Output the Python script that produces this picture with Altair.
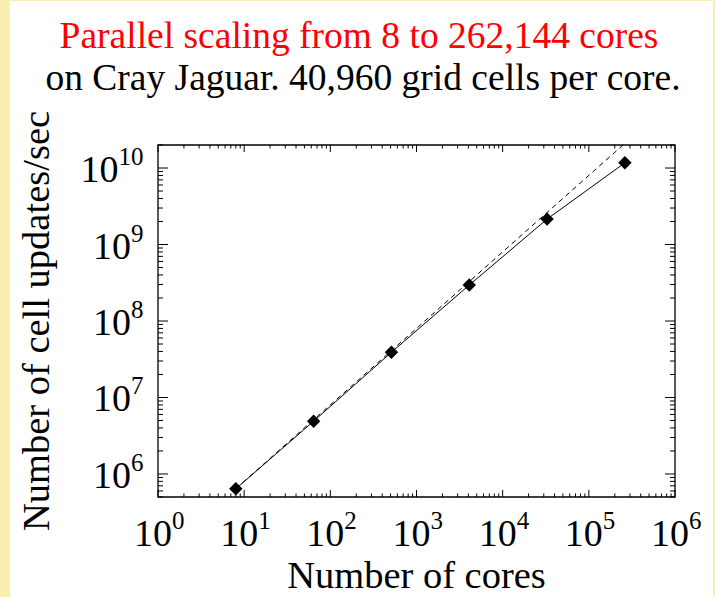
import altair as alt
import pandas as pd

# Measured throughput on Cray Jaguar (40,960 grid cells per core)
cores = [8, 64, 512, 4096, 32768, 262144]
updates_per_sec = [6.4e5, 4.9e6, 3.9e7, 2.95e8, 2.15e9, 1.17e10]

# Ideal (linear) scaling line through the 8-core run
ideal_cores = [8, 262144]
ideal_updates = [6.4e5, 2.1e10]

# Axis decades and labels
x_exponents = [0, 1, 2, 3, 4, 5, 6]
y_exponents = [6, 7, 8, 9, 10]

X_DOMAIN = [1, 1e6]
Y_DOMAIN = [5e5, 2e10]

W, H = 517, 352
SERIF = "Liberation Serif"
PAGE_BG = "#FAEEB2"

meas = pd.DataFrame({"cores": cores, "rate": updates_per_sec})
ideal = pd.DataFrame({"cores": ideal_cores, "rate": ideal_updates})

x_major = pd.DataFrame({"v": [10.0 ** e for e in x_exponents],
                        "e": [str(e) for e in x_exponents]})
x_minor = pd.DataFrame({"v": [k * 10.0 ** e for e in x_exponents[:-1] for k in range(2, 10)]})
y_major = pd.DataFrame({"v": [10.0 ** e for e in y_exponents],
                        "e": [str(e) for e in y_exponents]})
y_minor = pd.DataFrame({"v": [v for v in [k * 10.0 ** e for e in range(5, 11) for k in range(2, 10)]
                              if Y_DOMAIN[0] <= v <= Y_DOMAIN[1]]})

xs = alt.Scale(type="log", domain=X_DOMAIN, nice=False)
ys = alt.Scale(type="log", domain=Y_DOMAIN, nice=False)

one = alt.Data(values=[{}])

# white page panel inside the pale yellow margin
panel = alt.Chart(one).mark_rect(color="white").encode(
    x=alt.value(-148), x2=alt.value(555), y=alt.value(-144), y2=alt.value(460)
)

# plot frame
frame = alt.Chart(one).mark_rect(fill=None, stroke="black", strokeWidth=1.3).encode(
    x=alt.value(0), x2=alt.value(W), y=alt.value(0), y2=alt.value(H)
)

ideal_line = alt.Chart(ideal).mark_line(
    color="black", strokeWidth=1, strokeDash=[5, 4], clip=True
).encode(x=alt.X("cores:Q", scale=xs, axis=None), y=alt.Y("rate:Q", scale=ys, axis=None))

meas_line = alt.Chart(meas).mark_line(color="black", strokeWidth=1).encode(
    x=alt.X("cores:Q", scale=xs, axis=None), y=alt.Y("rate:Q", scale=ys, axis=None)
)
meas_pts = alt.Chart(meas).mark_point(
    shape="diamond", filled=True, color="black", size=180, opacity=1
).encode(x=alt.X("cores:Q", scale=xs, axis=None), y=alt.Y("rate:Q", scale=ys, axis=None))


def xticks(df, length):
    bottom = alt.Chart(df).mark_rule(color="black", strokeWidth=1).encode(
        x=alt.X("v:Q", scale=xs, axis=None), y=alt.value(H), y2=alt.value(H - length))
    top = alt.Chart(df).mark_rule(color="black", strokeWidth=1).encode(
        x=alt.X("v:Q", scale=xs, axis=None), y=alt.value(0), y2=alt.value(length))
    return [bottom, top]


def yticks(df, length):
    left = alt.Chart(df).mark_rule(color="black", strokeWidth=1).encode(
        y=alt.Y("v:Q", scale=ys, axis=None), x=alt.value(0), x2=alt.value(length))
    right = alt.Chart(df).mark_rule(color="black", strokeWidth=1).encode(
        y=alt.Y("v:Q", scale=ys, axis=None), x=alt.value(W), x2=alt.value(W - length))
    return [left, right]


ticks = xticks(x_major, 7) + xticks(x_minor, 3.5) + yticks(y_major, 10) + yticks(y_minor, 5)

LBL = 38
SUP = 25

# x-axis labels: "10" with a raised exponent
x_base = alt.Chart(x_major).mark_text(
    text="10", font=SERIF, fontSize=LBL, align="right", baseline="alphabetic", dx=14
).encode(x=alt.X("v:Q", scale=xs, axis=None), y=alt.value(H + 49))
x_sup = alt.Chart(x_major).mark_text(
    font=SERIF, fontSize=SUP, align="left", baseline="alphabetic", dx=14
).encode(x=alt.X("v:Q", scale=xs, axis=None), y=alt.value(H + 32), text="e:N")

# y-axis labels, right-aligned against the frame
y_sup = alt.Chart(y_major).mark_text(
    font=SERIF, fontSize=SUP, align="right", baseline="alphabetic", dy=-3
).encode(y=alt.Y("v:Q", scale=ys, axis=None), x=alt.value(-14.5), text="e:N")
y_base_1 = alt.Chart(y_major).transform_filter("length(datum.e) == 1").mark_text(
    text="10", font=SERIF, fontSize=LBL, align="right", baseline="alphabetic", dy=14
).encode(y=alt.Y("v:Q", scale=ys, axis=None), x=alt.value(-14.5 - SUP * 0.5))
y_base_2 = alt.Chart(y_major).transform_filter("length(datum.e) == 2").mark_text(
    text="10", font=SERIF, fontSize=LBL, align="right", baseline="alphabetic", dy=14
).encode(y=alt.Y("v:Q", scale=ys, axis=None), x=alt.value(-14.5 - SUP))

x_title = alt.Chart(one).mark_text(
    text="Number of cores", font=SERIF, fontSize=38.5, align="center", baseline="alphabetic"
).encode(x=alt.value(W / 2), y=alt.value(443))
y_title = alt.Chart(one).mark_text(
    text="Number of cell updates/sec", font=SERIF, fontSize=38.5, align="center",
    baseline="alphabetic", angle=270
).encode(x=alt.value(-109), y=alt.value(H / 2))

title1 = alt.Chart(one).mark_text(
    text="Parallel scaling from 8 to 262,144 cores", font=SERIF, fontSize=37.5,
    color="#FF0000", align="center", baseline="alphabetic"
).encode(x=alt.value(201), y=alt.value(-97))
title2 = alt.Chart(one).mark_text(
    text="on Cray Jaguar. 40,960 grid cells per core.", font=SERIF, fontSize=37.5,
    color="black", align="center", baseline="alphabetic"
).encode(x=alt.value(205), y=alt.value(-55))

chart = alt.layer(
    panel, frame, ideal_line, meas_line, meas_pts, *ticks,
    x_base, x_sup, y_sup, y_base_1, y_base_2, x_title, y_title, title1, title2
).properties(
    width=W, height=H, background=PAGE_BG,
    padding={"left": 158, "top": 145, "right": 40, "bottom": 100},
    autosize=alt.AutoSizeParams(type="none"),
).configure_view(strokeWidth=0)

chart.save("out.html", embed_options={"renderer": "svg", "actions": False})
